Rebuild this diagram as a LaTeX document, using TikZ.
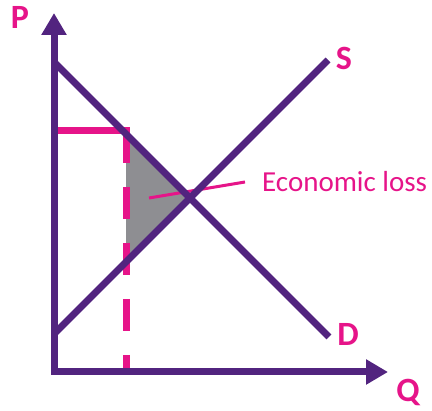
\documentclass[tikz,border=0pt]{standalone}
\usepackage{fontspec}
\setmainfont{Carlito}
\usepackage{tikz}
\usetikzlibrary{arrows.meta}
\definecolor{econpurple}{RGB}{82,36,127}
\definecolor{econpink}{RGB}{230,20,137}
\definecolor{econgray}{RGB}{142,142,146}
\tikzset{
  % --- axes and market curves ------------------------------------------------
  axis/.style={econpurple,line width=7pt,line join=miter,
               {Triangle[length=22pt,width=24pt]}-{Triangle[length=22pt,width=24pt]}},
  curve/.style={econpurple,line width=7pt},
  % --- price ceiling guide ---------------------------------------------------
  guide/.style={econpink,line width=7pt},
  guidedash/.style={guide,dash pattern=on 32pt off 24pt},
  leader/.style={econpink,line width=3pt},
  loss/.style={fill=econgray},
  % --- labels ----------------------------------------------------------------
  axlab/.style={text=econpink,font=\fontsize{34}{34}\selectfont\bfseries,
                inner sep=0pt,anchor=base},
  losslab/.style={text=econpink,font=\fontsize{29}{29}\selectfont,
                  inner sep=0pt,anchor=base west},
}
\begin{document}
\begin{tikzpicture}[x=1pt,y=-1pt]
  \useasboundingbox (0,0) rectangle (432,411);
  % pixel-style coordinates, y running down
  \coordinate (O)    at (54,372);
  \coordinate (ptip) at (54,13);
  \coordinate (qtip) at (388,372);
  \coordinate (dtop) at (54,62);
  \coordinate (dbot) at (329,337);
  \coordinate (sbot) at (54,334);
  \coordinate (stop) at (328,60);
  \coordinate (eq)   at (190,198);
  \coordinate (lossd) at (126,134);  % ceiling meets D
  \coordinate (losss) at (126,262);  % ceiling meets S
  \coordinate (pax)  at (57,131);
  \coordinate (pend) at (129.5,131);
  \coordinate (pq)   at (126,131);
  \coordinate (qax)  at (126,372);
  \coordinate (lstart) at (149,198);
  \coordinate (lend)   at (245,182);

  % the deadweight triangle, under everything
  \fill[loss] (lossd) -- (eq) -- (losss) -- cycle;

  \draw[guide] (pax) -- (pend);
  \draw[guidedash] (pq) -- (qax);
  \draw[leader] (lstart) -- (lend);

  \draw[curve] (dtop) -- (dbot);
  \draw[curve] (sbot) -- (stop);
  \draw[axis] (ptip) |- (qtip);

  \node[axlab] (plab) at (20,29)   {P};
  \node[axlab] (qlab) at (408,402) {Q};
  \node[axlab] (slab) at (344,70)  {S};
  \node[axlab] (dlab) at (348,346) {D};
  \node[losslab] (loss) at (262,192) {Economic loss};
\end{tikzpicture}
\end{document}
